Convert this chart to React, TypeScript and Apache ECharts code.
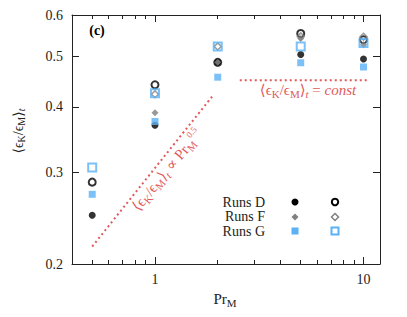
import React, { useEffect, useRef } from 'react';
import * as echarts from 'echarts';

const prM = [0.5, 1, 2, 5, 10];
const runsDFilled = [0.248, 0.369, 0.487, 0.504, 0.494];
const runsDOpen = [0.287, 0.441, 0.487, 0.553, 0.538];
const runsFFilled = [null, 0.39, 0.487, 0.541, 0.526];
const runsFOpen = [null, 0.423, 0.522, 0.546, 0.545];
const runsGFilled = [0.272, 0.375, 0.456, 0.486, 0.477];
const runsGOpen = [0.306, 0.425, 0.522, 0.522, 0.53];
const scalingLineX = [0.5, 1.9];
const scalingLineY = [0.216, 0.421];
const constLineX = [2.55, 10.6];
const constLineY = [0.45, 0.45];
const yTicks = [0.2, 0.3, 0.4, 0.5, 0.6];
const xMajorTicks = [1, 10];
const xMinorTicks = [0.5, 0.6, 0.7, 0.8, 0.9, 2, 3, 4, 5, 6, 7, 8, 9];

const FONT = "'Liberation Serif', 'DejaVu Serif', serif";
const BLUE = '#5AB1F5';
const GRAY = '#808080';
const RED = '#E05A5A';

const pairs = (xs: number[], ys: (number | null)[]) =>
  xs.map((x, i) => [x, ys[i]]).filter((p) => p[1] !== null);

const tok = (size: number, color: string, italic: boolean, extra: any = {}) => ({
  fontFamily: FONT,
  fontSize: size,
  fontStyle: italic ? 'italic' : 'normal',
  fill: color,
  color,
  ...extra,
});

const mathRich = (size: number, color: string) => {
  const sub = Math.round(size * 0.7);
  return {
    a: tok(size, color, false),
    i: tok(size, color, true),
    s: tok(sub, color, false, { padding: [size * 0.55, 0, 0, 0] }),
    si: tok(sub, color, true, { padding: [size * 0.55, 0, 0, 0] }),
    sup: tok(Math.round(size * 0.62), color, false, { padding: [0, 0, size * 0.7, 0] }),
  };
};

const ekem = '{a|⟨ϵ}{s|K}{a|/ϵ}{s|M}{a|⟩}{si|t}';

export default function App() {
  const ref = useRef<HTMLDivElement>(null);
  useEffect(() => {
    if (!ref.current) return;
    const chart = echarts.init(ref.current, null, { renderer: 'svg' });
    const baseX = {
      type: 'log',
      logBase: 10,
      min: 0.4,
      max: 12,
      gridIndex: 0,
      splitLine: { show: false },
      minorTick: { show: false },
    };
    const baseY = {
      type: 'log',
      logBase: 10,
      min: 0.2,
      max: 0.6,
      gridIndex: 0,
      splitLine: { show: false },
    };
    const lineStyle = { color: '#222', width: 1 };
    chart.setOption({
      animation: false,
      backgroundColor: '#fff',
      grid: { left: 72, top: 15, right: 27, bottom: 53, containLabel: false },
      xAxis: [
        {
          ...baseX,
          position: 'bottom',
          axisLine: { show: true, lineStyle },
          axisTick: { show: true, inside: true, length: 7, customValues: xMajorTicks, lineStyle },
          axisLabel: {
            show: true,
            customValues: xMajorTicks,
            formatter: (v: number) => String(v),
            fontFamily: FONT,
            fontSize: 14,
            color: '#222',
            margin: 8,
          },
        },
        {
          ...baseX,
          position: 'bottom',
          axisLine: { show: false },
          axisTick: { show: true, inside: true, length: 4, customValues: xMinorTicks, lineStyle },
          axisLabel: { show: false },
        },
        {
          ...baseX,
          position: 'top',
          axisLine: { show: true, lineStyle },
          axisTick: { show: true, inside: true, length: 7, customValues: xMajorTicks, lineStyle },
          axisLabel: { show: false },
        },
        {
          ...baseX,
          position: 'top',
          axisLine: { show: false },
          axisTick: { show: true, inside: true, length: 4, customValues: xMinorTicks, lineStyle },
          axisLabel: { show: false },
        },
      ],
      yAxis: [
        {
          ...baseY,
          position: 'left',
          axisLine: { show: true, lineStyle },
          axisTick: { show: true, inside: true, length: 7, customValues: yTicks, lineStyle },
          axisLabel: {
            show: true,
            customValues: yTicks,
            formatter: (v: number) => v.toFixed(1),
            fontFamily: FONT,
            fontSize: 14,
            color: '#222',
            margin: 9,
          },
        },
        {
          ...baseY,
          position: 'right',
          axisLine: { show: true, lineStyle },
          axisTick: { show: true, inside: true, length: 7, customValues: yTicks, lineStyle },
          axisLabel: { show: false },
        },
      ],
      series: [
        {
          type: 'line',
          data: pairs(scalingLineX, scalingLineY),
          symbol: 'none',
          lineStyle: { color: RED, width: 2, type: [2, 3] },
          z: 1,
        },
        {
          type: 'line',
          data: pairs(constLineX, constLineY),
          symbol: 'none',
          lineStyle: { color: RED, width: 2, type: [2, 3] },
          z: 1,
        },
        {
          type: 'scatter',
          data: pairs(prM, runsDFilled),
          symbol: 'circle',
          symbolSize: 7,
          itemStyle: { color: '#000' },
          z: 2,
        },
        {
          type: 'scatter',
          data: pairs(prM, runsDOpen),
          symbol: 'circle',
          symbolSize: 7,
          itemStyle: { color: 'rgba(0,0,0,0)', borderColor: '#000', borderWidth: 2 },
          z: 3,
        },
        {
          type: 'scatter',
          data: pairs(prM, runsFFilled),
          symbol: 'diamond',
          symbolSize: 7,
          itemStyle: { color: GRAY },
          z: 4,
        },
        {
          type: 'scatter',
          data: pairs(prM, runsFOpen),
          symbol: 'diamond',
          symbolSize: 7,
          itemStyle: { color: 'rgba(0,0,0,0)', borderColor: GRAY, borderWidth: 1.5 },
          z: 5,
        },
        {
          type: 'scatter',
          data: pairs(prM, runsGFilled),
          symbol: 'rect',
          symbolSize: 7,
          itemStyle: { color: BLUE },
          z: 6,
        },
        {
          type: 'scatter',
          data: pairs(prM, runsGOpen),
          symbol: 'rect',
          symbolSize: 8,
          itemStyle: { color: 'rgba(0,0,0,0)', borderColor: BLUE, borderWidth: 2 },
          z: 7,
        },
      ],
      graphic: [
        {
          type: 'text',
          x: 97,
          y: 30,
          style: { text: '(c)', fontFamily: FONT, fontSize: 14, fontWeight: 'bold', fill: '#000', align: 'center', verticalAlign: 'middle' },
        },
        {
          type: 'text',
          x: 18,
          y: 131,
          rotation: Math.PI / 2,
          style: { text: ekem, rich: mathRich(14, '#222'), fontFamily: FONT, fontSize: 14, align: 'center', verticalAlign: 'middle', fill: '#222' },
        },
        {
          type: 'text',
          x: 225,
          y: 299,
          style: { text: '{a|Pr}{s|M}', rich: mathRich(15, '#222'), fontFamily: FONT, fontSize: 15, align: 'center', verticalAlign: 'middle', fill: '#222' },
        },
        {
          type: 'text',
          x: 308,
          y: 90,
          style: { text: ekem + '{a| = }{i|const}', rich: mathRich(15, RED), fontFamily: FONT, fontSize: 15, align: 'center', verticalAlign: 'middle', fill: RED },
        },
        {
          type: 'text',
          x: 167,
          y: 170,
          rotation: 0.88,
          style: { text: ekem + '{a| ∝ Pr}{s|M}{sup|0.5}', rich: mathRich(15, RED), fontFamily: FONT, fontSize: 15, align: 'center', verticalAlign: 'middle', fill: RED },
        },
        // legend
        { type: 'text', x: 265, y: 202, style: { text: 'Runs D', fontFamily: FONT, fontSize: 14, fill: '#222', align: 'right', verticalAlign: 'middle' } },
        { type: 'text', x: 265, y: 216.5, style: { text: 'Runs F', fontFamily: FONT, fontSize: 14, fill: '#222', align: 'right', verticalAlign: 'middle' } },
        { type: 'text', x: 265, y: 231, style: { text: 'Runs G', fontFamily: FONT, fontSize: 14, fill: '#222', align: 'right', verticalAlign: 'middle' } },
        { type: 'circle', shape: { cx: 295, cy: 202, r: 3.5 }, style: { fill: '#000' } },
        { type: 'circle', shape: { cx: 335, cy: 202, r: 3.2 }, style: { fill: '#fff', stroke: '#000', lineWidth: 2 } },
        { type: 'polygon', shape: { points: [[295, 213.5], [298.5, 217], [295, 220.5], [291.5, 217]] }, style: { fill: GRAY } },
        { type: 'polygon', shape: { points: [[335, 213.5], [338.5, 217], [335, 220.5], [331.5, 217]] }, style: { fill: '#fff', stroke: GRAY, lineWidth: 1.5 } },
        { type: 'rect', shape: { x: 291.5, y: 227.5, width: 7, height: 7 }, style: { fill: BLUE } },
        { type: 'rect', shape: { x: 331.5, y: 227.5, width: 7, height: 7 }, style: { fill: '#fff', stroke: BLUE, lineWidth: 2 } },
      ],
    });
    return () => chart.dispose();
  }, []);
  return <div ref={ref} style={{ position: 'absolute', left: 0, top: 0, width: 407, height: 317 }} />;
}
